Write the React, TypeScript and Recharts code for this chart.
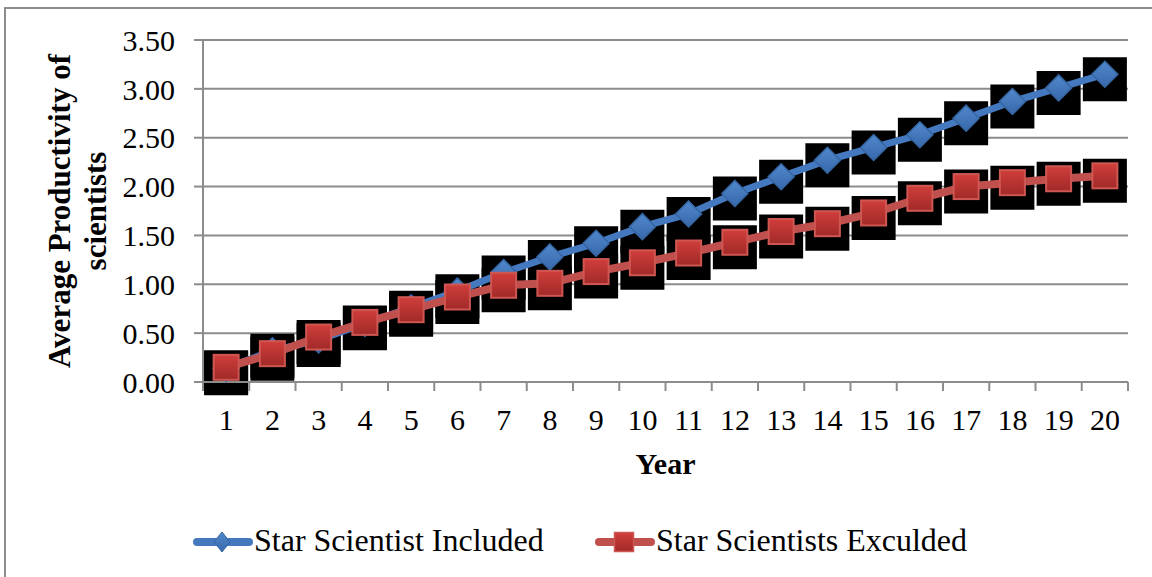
import React from 'react';
import { LineChart, Line, XAxis, YAxis, CartesianGrid, Legend } from 'recharts';

// Categories (years) and the two productivity series
const YEARS = [1, 2, 3, 4, 5, 6, 7, 8, 9, 10, 11, 12, 13, 14, 15, 16, 17, 18, 19, 20];
const INCLUDED = [0.14, 0.32, 0.43, 0.6, 0.76, 0.93, 1.12, 1.28, 1.42, 1.59, 1.72, 1.93, 2.1, 2.27, 2.4, 2.53, 2.7, 2.87, 3.01, 3.15];
const EXCLUDED = [0.15, 0.29, 0.46, 0.61, 0.74, 0.87, 0.99, 1.01, 1.13, 1.22, 1.32, 1.43, 1.54, 1.62, 1.73, 1.88, 2.0, 2.04, 2.08, 2.11];
const Y_TICKS = [0, 0.5, 1, 1.5, 2, 2.5, 3, 3.5];
const SERIES_NAMES = ['Star Scientist Included', 'Star Scientists Exculded'];
const Y_TITLE = ['Average Productivity of', 'scientists'];
const X_TITLE = 'Year';

const data = YEARS.map((year, i) => ({ year, included: INCLUDED[i], excluded: EXCLUDED[i] }));

// Ticks at category centres (labels) and category edges (tick marks)
const X_TICKS: number[] = [YEARS[0] - 0.5];
YEARS.forEach((y) => X_TICKS.push(y, y + 0.5));

const FONT = '"Liberation Serif", "Times New Roman", serif';
const GRID = '#8c8c8c';
const BLUE = '#4479bf';
const RED = '#c0504d';

// Curve factory that draws a short vertical stroke at every point; with a
// wide butt-capped stroke this gives the square black shadow behind a marker.
const shadowCurve = (context: any) => ({
  areaStart() {},
  areaEnd() {},
  lineStart() {},
  lineEnd() {},
  point(x: number, y: number) {
    context.moveTo(x, y - 17);
    context.lineTo(x, y + 27);
  },
});

const Diamond = (props: any) => {
  const { cx, cy, index } = props;
  if (cx == null || cy == null) return <g key={`d${index}`} />;
  const r = 13;
  return (
    <polygon
      key={`d${index}`}
      points={`${cx},${cy - r} ${cx + r},${cy} ${cx},${cy + r} ${cx - r},${cy}`}
      fill="url(#blueFill)"
      stroke="#3565a3"
      strokeWidth={1.5}
    />
  );
};

const Square = (props: any) => {
  const { cx, cy, index } = props;
  if (cx == null || cy == null) return <g key={`s${index}`} />;
  const h = 12.5;
  return (
    <rect
      key={`s${index}`}
      x={cx - h}
      y={cy - h}
      width={2 * h}
      height={2 * h}
      fill="url(#redFill)"
      stroke="#cf5753"
      strokeWidth={2}
    />
  );
};

const XTick = (props: any) => {
  const { x, y, payload } = props;
  const v = payload.value as number;
  if (Number.isInteger(v)) {
    return (
      <text x={x} y={y + 48} textAnchor="middle" fontSize={30} fontFamily={FONT} fill="#000">
        {v}
      </text>
    );
  }
  return <line x1={x} y1={y} x2={x} y2={y + 9} stroke={GRID} strokeWidth={2} />;
};

const YTitle = (props: any) => {
  const vb = props.viewBox || {};
  const cy = (vb.y ?? 40) + (vb.height ?? 342) / 2;
  return (
    <g>
      <text
        transform={`translate(70, ${cy}) rotate(-90)`}
        textAnchor="middle"
        fontSize={31}
        fontWeight="bold"
        fontFamily={FONT}
        fill="#000"
      >
        {Y_TITLE[0]}
      </text>
      <text
        transform={`translate(106, ${cy}) rotate(-90)`}
        textAnchor="middle"
        fontSize={31}
        fontWeight="bold"
        fontFamily={FONT}
        fill="#000"
      >
        {Y_TITLE[1]}
      </text>
    </g>
  );
};

const XTitle = (props: any) => {
  const vb = props.viewBox || {};
  const cx = (vb.x ?? 203) + (vb.width ?? 925) / 2;
  return (
    <text x={cx} y={(vb.y ?? 383) + 92} textAnchor="middle" fontSize={30} fontWeight="bold" fontFamily={FONT} fill="#000">
      {X_TITLE}
    </text>
  );
};

const LEGEND_X = [193, 595];

const LegendContent = (props: any) => {
  const payload = (props.payload || []).filter((p: any) => p.type !== 'none');
  return (
    <svg width={1152} height={50} style={{ display: 'block' }}>
      {payload.map((item: any, i: number) => {
        const x0 = LEGEND_X[i] ?? 193 + i * 400;
        const cy = 27;
        const color = item.color || (i === 0 ? BLUE : RED);
        const mid = x0 + 29;
        return (
          <g key={item.value}>
            <line x1={x0 + 4} y1={cy} x2={x0 + 56} y2={cy} stroke={color} strokeWidth={8} strokeLinecap="round" />
            {i === 0 ? (
              <polygon
                points={`${mid},${cy - 10} ${mid + 8},${cy} ${mid},${cy + 10} ${mid - 8},${cy}`}
                fill="url(#blueFill)"
                stroke="#3565a3"
                strokeWidth={1}
              />
            ) : (
              <rect x={mid - 9.5} y={cy - 9.5} width={19} height={19} fill="url(#redFill)" stroke="#cf5753" strokeWidth={1.5} />
            )}
            <text x={x0 + 61} y={cy + 9} fontSize={32} fontFamily={FONT} fill="#000">
              {item.value}
            </text>
          </g>
        );
      })}
    </svg>
  );
};

export default function App() {
  return (
    <div
      style={{
        position: 'absolute',
        left: 0,
        top: 0,
        width: 1152,
        height: 577,
        overflow: 'hidden',
        background: '#fff',
      }}
    >
      <svg width={0} height={0} style={{ position: 'absolute' }}>
        <defs>
          <linearGradient id="blueFill" x1="0" y1="0" x2="0" y2="1">
            <stop offset="0%" stopColor="#5189cc" />
            <stop offset="100%" stopColor="#3768aa" />
          </linearGradient>
          <linearGradient id="redFill" x1="0" y1="0" x2="0" y2="1">
            <stop offset="0%" stopColor="#d03e3b" />
            <stop offset="100%" stopColor="#a02a28" />
          </linearGradient>
        </defs>
      </svg>
      <div
        style={{
          position: 'absolute',
          left: 4,
          top: 7,
          width: 1300,
          height: 700,
          border: `2px solid ${GRID}`,
          boxSizing: 'border-box',
        }}
      />
      <LineChart
        width={1152}
        height={577}
        data={data}
        margin={{ top: 40, right: 24, bottom: 95, left: 0 }}
        style={{ fontFamily: FONT }}
      >
        <CartesianGrid horizontal vertical={false} stroke={GRID} strokeWidth={2} xAxisId="x" />
        <XAxis
          xAxisId="x"
          dataKey="year"
          type="number"
          domain={[YEARS[0] - 0.5, YEARS[YEARS.length - 1] + 0.5]}
          ticks={X_TICKS}
          interval={0}
          tick={<XTick />}
          tickLine={false}
          tickSize={0}
          tickMargin={0}
          axisLine={{ stroke: GRID, strokeWidth: 2 }}
          height={100}
          allowDataOverflow
          label={<XTitle />}
        />
        <YAxis
          domain={[0, 3.5]}
          ticks={Y_TICKS}
          tickFormatter={(v: number) => v.toFixed(2)}
          width={203}
          tickSize={9}
          tickMargin={19}
          tick={{ fontSize: 30, fill: '#000', fontFamily: FONT }}
          tickLine={{ stroke: GRID, strokeWidth: 2 }}
          axisLine={{ stroke: GRID, strokeWidth: 2 }}
          label={<YTitle />}
        />
        <Line
          xAxisId="x"
          dataKey="included"
          type={shadowCurve as any}
          stroke="#000"
          strokeWidth={44}
          strokeLinecap="butt"
          legendType="none"
          dot={false}
          activeDot={false}
          isAnimationActive={false}
        />
        <Line
          xAxisId="x"
          dataKey="excluded"
          type={shadowCurve as any}
          stroke="#000"
          strokeWidth={44}
          strokeLinecap="butt"
          legendType="none"
          dot={false}
          activeDot={false}
          isAnimationActive={false}
        />
        <Line
          xAxisId="x"
          dataKey="included"
          name={SERIES_NAMES[0]}
          stroke={BLUE}
          strokeWidth={7}
          dot={Diamond}
          activeDot={false}
          isAnimationActive={false}
        />
        <Line
          xAxisId="x"
          dataKey="excluded"
          name={SERIES_NAMES[1]}
          stroke={RED}
          strokeWidth={8}
          dot={Square}
          activeDot={false}
          isAnimationActive={false}
        />
        <Legend
          layout="horizontal"
          verticalAlign="middle"
          align="center"
          content={<LegendContent />}
          wrapperStyle={{ position: 'absolute', left: 0, top: 515, width: 1152, height: 50 }}
        />
      </LineChart>
    </div>
  );
}
